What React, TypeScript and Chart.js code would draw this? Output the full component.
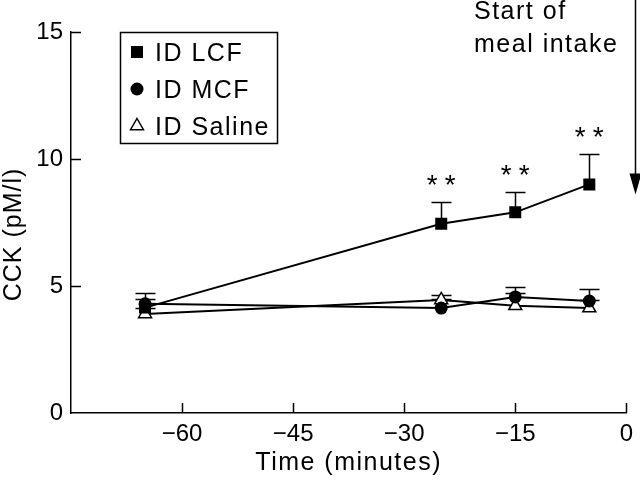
import React, { useEffect, useRef } from "react";
import { Chart, registerables } from "chart.js";

Chart.register(...registerables);

const times = [-65, -25, -15, -5];
const lcfMean = [4.15, 7.45, 7.9, 9.0];
const lcfErr = [0.35, 0.85, 0.8, 1.2];
const mcfMean = [4.3, 4.13, 4.57, 4.41];
const mcfErr = [0.43, 0.37, 0.4, 0.47];
const salineMean = [3.9, 4.45, 4.22, 4.13];
const salineErr = [0.25, 0.2, 0.5, 0.3];
const xTicks = [-60, -45, -30, -15, 0];
const yTicks = [0, 5, 10, 15];
const signifTimes = [-25, -15, -5];
const seriesLabels = ["ID LCF", "ID MCF", "ID Saline"];
const annotationLines = ["Start of", "meal intake"];
const mealStartValue = 8.6;

const FONT = "'Liberation Sans', Arial, Helvetica, sans-serif";

function drawMarker(ctx: CanvasRenderingContext2D, style: string, x: number, y: number) {
  ctx.save();
  ctx.lineWidth = 1.5;
  ctx.strokeStyle = "#000";
  ctx.beginPath();
  if (style === "rect") {
    const s = 6;
    ctx.rect(x - s, y - s, 2 * s, 2 * s);
    ctx.fillStyle = "#000";
    ctx.fill();
  } else if (style === "circle") {
    ctx.arc(x, y, 6.5, 0, Math.PI * 2);
    ctx.fillStyle = "#000";
    ctx.fill();
  } else {
    const r = 7.5;
    ctx.moveTo(x, y - r);
    ctx.lineTo(x + r * 0.866, y + r * 0.5);
    ctx.lineTo(x - r * 0.866, y + r * 0.5);
    ctx.closePath();
    ctx.fillStyle = "#fff";
    ctx.fill();
    ctx.stroke();
  }
  ctx.restore();
}

const decorPlugin = {
  id: "decor",
  beforeDatasetsDraw(chart: any) {
    const ctx: CanvasRenderingContext2D = chart.ctx;
    const xs = chart.scales.x;
    const ys = chart.scales.y;
    const area = chart.chartArea;
    ctx.save();
    ctx.strokeStyle = "#000";
    ctx.lineWidth = 1.5;
    // inward ticks
    xTicks.forEach((v) => {
      const px = Math.round(xs.getPixelForValue(v)) + 0.5;
      ctx.beginPath();
      ctx.moveTo(px, area.bottom);
      ctx.lineTo(px, area.bottom - 10);
      ctx.stroke();
    });
    yTicks.forEach((v) => {
      if (v === 0) return;
      const py = Math.round(ys.getPixelForValue(v)) + 0.5;
      ctx.beginPath();
      ctx.moveTo(area.left, py);
      ctx.lineTo(area.left + 10, py);
      ctx.stroke();
    });
    // error bars (upward)
    const errs = [lcfErr, mcfErr, salineErr];
    const means = [lcfMean, mcfMean, salineMean];
    errs.forEach((err, si) => {
      times.forEach((t, i) => {
        const px = Math.round(xs.getPixelForValue(t)) + 0.5;
        const y0 = ys.getPixelForValue(means[si][i]);
        const y1 = Math.round(ys.getPixelForValue(means[si][i] + err[i])) + 0.5;
        ctx.beginPath();
        ctx.moveTo(px, y0);
        ctx.lineTo(px, y1);
        ctx.moveTo(px - 10, y1);
        ctx.lineTo(px + 10, y1);
        ctx.stroke();
      });
    });
    ctx.restore();
  },
  afterDatasetsDraw(chart: any) {
    const ctx: CanvasRenderingContext2D = chart.ctx;
    const xs = chart.scales.x;
    const ys = chart.scales.y;
    const area = chart.chartArea;
    ctx.save();
    // asterisks
    ctx.fillStyle = "#000";
    ctx.font = `28px ${FONT}`;
    ctx.textAlign = "center";
    ctx.textBaseline = "alphabetic";
    signifTimes.forEach((t) => {
      const i = times.indexOf(t);
      const px = xs.getPixelForValue(t);
      const top = ys.getPixelForValue(lcfMean[i] + lcfErr[i]);
      const cy = top - 25;
      ctx.fillText("*", px - 9, cy + 17);
      ctx.fillText("*", px + 9, cy + 17);
    });
    // arrow
    const ax = Math.round(xs.getPixelForValue(0)) + 9.5;
    const tipY = ys.getPixelForValue(mealStartValue);
    ctx.strokeStyle = "#000";
    ctx.lineWidth = 1.5;
    ctx.beginPath();
    ctx.moveTo(ax, 0);
    ctx.lineTo(ax, tipY - 18);
    ctx.stroke();
    ctx.beginPath();
    ctx.moveTo(ax, tipY);
    ctx.lineTo(ax - 6, tipY - 21);
    ctx.lineTo(ax + 6, tipY - 21);
    ctx.closePath();
    ctx.fill();
    // annotation text
    (ctx as any).letterSpacing = "1.5px";
    ctx.textAlign = "left";
    ctx.font = `25px ${FONT}`;
    ctx.fillText(annotationLines[0], 474, 19);
    ctx.fillText(annotationLines[1], 474, 52);
    // legend
    const lx = area.left + 49;
    const ly = area.top;
    ctx.lineWidth = 1.5;
    ctx.strokeRect(lx + 0.5, ly + 0.5, 157, 111);
    const styles = ["rect", "circle", "triangle"];
    seriesLabels.forEach((lab, k) => {
      const rowBase = ly + 29 + k * 37;
      drawMarker(ctx, styles[k], lx + 17, rowBase - 9);
      ctx.fillStyle = "#000";
      ctx.fillText(lab, lx + 35, rowBase);
    });
    // axis titles
    ctx.textAlign = "center";
    ctx.fillText("Time (minutes)", (area.left + area.right) / 2, 470);
    ctx.save();
    ctx.translate(21, (area.top + area.bottom) / 2 + 12);
    ctx.rotate(-Math.PI / 2);
    (ctx as any).letterSpacing = "1px";
    ctx.fillText("CCK (pM/l)", 0, 0);
    ctx.restore();
    ctx.restore();
  },
};

export default function App() {
  const ref = useRef<HTMLCanvasElement | null>(null);
  useEffect(() => {
    if (!ref.current) return;
    const mk = (vals: number[]) => times.map((t, i) => ({ x: t, y: vals[i] }));
    const chart = new Chart(ref.current, {
      type: "line",
      data: {
        datasets: [
          {
            label: seriesLabels[0],
            data: mk(lcfMean),
            borderColor: "#000",
            backgroundColor: "#000",
            borderWidth: 2,
            pointStyle: "rect",
            pointRadius: 8.5,
            pointBorderWidth: 0,
            pointBackgroundColor: "#000",
            order: 1,
          },
          {
            label: seriesLabels[1],
            data: mk(mcfMean),
            borderColor: "#000",
            backgroundColor: "#000",
            borderWidth: 2,
            pointStyle: "circle",
            pointRadius: 6.5,
            pointBorderWidth: 0,
            pointBackgroundColor: "#000",
            order: 2,
          },
          {
            label: seriesLabels[2],
            data: mk(salineMean),
            borderColor: "#000",
            backgroundColor: "#fff",
            borderWidth: 2,
            pointStyle: "triangle",
            pointRadius: 7.5,
            pointBorderWidth: 1.5,
            pointBackgroundColor: "#fff",
            pointBorderColor: "#000",
            order: 3,
          },
        ],
      },
      options: {
        animation: false,
        responsive: false,
        devicePixelRatio: 1,
        layout: { padding: { top: 32, right: 9, left: 0, bottom: 0 } },
        plugins: { legend: { display: false }, tooltip: { enabled: false } },
        scales: {
          x: {
            type: "linear",
            min: -75,
            max: 0,
            afterBuildTicks: (s: any) => {
              s.ticks = xTicks.map((v) => ({ value: v }));
            },
            afterFit: (s: any) => {
              s.height = 69;
            },
            grid: { drawOnChartArea: false, drawTicks: false },
            border: { display: true, color: "#000", width: 1.5 },
            ticks: {
              color: "#000",
              font: { family: FONT, size: 24 },
              padding: 7,
              maxRotation: 0,
              callback: (v: any) => (Number(v) < 0 ? "\u2212" + Math.abs(Number(v)) : String(v)),
            },
          },
          y: {
            type: "linear",
            min: 0,
            max: 15,
            afterBuildTicks: (s: any) => {
              s.ticks = yTicks.map((v) => ({ value: v }));
            },
            afterFit: (s: any) => {
              s.width = 71;
            },
            grid: { drawOnChartArea: false, drawTicks: false },
            border: { display: true, color: "#000", width: 1.5 },
            ticks: {
              color: "#000",
              font: { family: FONT, size: 24 },
              padding: 8,
            },
          },
        },
      },
      plugins: [decorPlugin],
    } as any);
    return () => chart.destroy();
  }, []);
  return (
    <div style={{ position: "fixed", left: 0, top: 0, width: 640, height: 482, background: "#fff" }}>
      <canvas ref={ref} width={640} height={482} style={{ display: "block" }} />
    </div>
  );
}
